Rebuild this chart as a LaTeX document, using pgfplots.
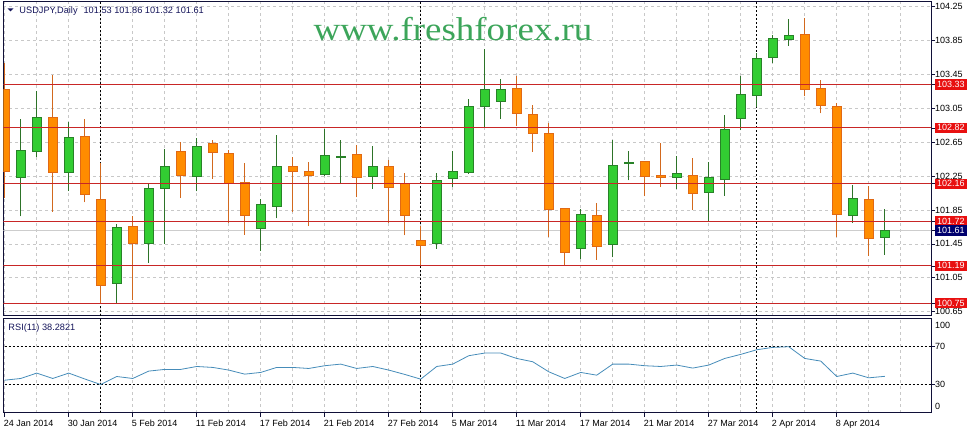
\documentclass[border=0pt]{standalone}
\usepackage{fontspec}
\setmainfont{Liberation Sans}
\newfontfamily\wmfont{Liberation Serif}
\usepackage{pgfplots}
\usepackage{pgfplotstable}
\pgfplotsset{compat=1.18}

\definecolor{frame}{RGB}{16,16,56}
\definecolor{gridgray}{RGB}{200,200,200}
\definecolor{bullfill}{RGB}{50,205,50}
\definecolor{bulledge}{RGB}{40,130,40}
\definecolor{bullwick}{RGB}{45,115,40}
\definecolor{bearfill}{RGB}{255,140,0}
\definecolor{bearedge}{RGB}{225,105,20}
\definecolor{bearwick}{RGB}{210,105,30}
\definecolor{levelred}{RGB}{200,38,38}
\definecolor{lblred}{RGB}{232,16,16}
\definecolor{navy}{RGB}{0,0,110}
\definecolor{titlecol}{RGB}{20,20,90}
\definecolor{rsiblue}{RGB}{70,140,185}
\definecolor{wmgreen}{RGB}{60,165,90}
\definecolor{bidgray}{RGB}{205,205,205}

\newcommand\rl[1]{{\setlength\fboxsep{2pt}\colorbox{lblred}{\color{white}#1}}}
\newcommand\bl[1]{{\setlength\fboxsep{2pt}\colorbox{navy}{\color{white}#1}}}

% daily bars, i = bar index (0 = 24 Jan 2014)
\pgfplotstableread{
i o h l c
1 102.23 102.93 101.775 102.55
2 102.54 103.25 102.48 102.94
4 102.29 102.885 102.08 102.71
7 100.98 101.68 100.75 101.64
9 101.45 102.16 101.23 102.10
10 102.10 102.57 101.45 102.36
12 102.25 102.70 102.07 102.60
16 101.63 101.98 101.37 101.91
17 101.89 102.74 101.75 102.36
20 102.27 102.81 102.25 102.49
21 102.475 102.68 102.16 102.485
23 102.24 102.61 102.10 102.36
27 101.45 102.29 101.39 102.20
28 102.22 102.55 102.12 102.30
29 102.29 103.16 102.28 103.07
30 103.07 103.75 102.82 103.27
31 103.13 103.40 102.93 103.27
36 101.39 101.86 101.275 101.80
38 101.44 102.68 101.29 102.38
39 102.395 102.55 102.20 102.405
42 102.23 102.49 102.10 102.275
44 102.06 102.42 101.72 102.23
45 102.21 102.97 102.02 102.806
46 102.93 103.43 102.79 103.215
47 103.20 103.70 103.07 103.64
48 103.65 103.916 103.58 103.876
49 103.865 104.10 103.79 103.912
53 101.787 102.145 101.70 101.984
55 101.53 101.86 101.32 101.61
}\bull

\pgfplotstableread{
i o h l c
0 103.27 103.59 101.99 102.30
3 102.94 103.44 101.83 102.29
5 102.72 102.93 101.94 102.03
6 101.97 102.40 100.75 100.96
8 101.65 101.775 100.79 101.45
11 102.535 102.65 101.99 102.26
13 102.63 102.68 102.22 102.53
14 102.52 102.56 101.70 102.16
15 102.17 102.40 101.56 101.79
18 102.36 102.47 101.83 102.30
19 102.31 102.42 101.66 102.26
22 102.50 102.62 102.00 102.23
24 102.36 102.44 101.70 102.12
25 102.16 102.29 101.55 101.79
26 101.495 101.66 101.185 101.43
32 103.28 103.43 102.84 102.99
33 102.98 103.09 102.54 102.755
34 102.75 102.88 101.53 101.86
35 101.87 101.87 101.20 101.35
37 101.79 101.93 101.26 101.42
40 102.42 102.42 102.01 102.25
41 102.26 102.64 102.12 102.23
43 102.26 102.46 101.85 102.05
50 103.916 104.12 103.19 103.274
51 103.286 103.385 102.99 103.085
52 103.074 103.109 101.535 101.80
54 101.976 102.13 101.31 101.515
}\bear

\pgfplotstableread{
i r
0 34.2
1 36.0
2 41.7
3 36.0
4 41.7
5 35.5
6 29.6
7 38.1
8 36.0
9 43.8
10 45.6
11 45.6
12 48.7
13 47.7
14 44.9
15 40.6
16 42.4
17 47.7
18 47.7
19 46.6
20 49.5
21 51.2
22 46.6
23 48.7
24 44.9
25 40.3
26 35.3
27 48.7
28 51.2
29 60.1
30 62.9
31 62.9
32 57.2
33 53.7
34 43.1
35 36.0
36 42.4
37 39.5
38 51.2
39 51.2
40 49.5
41 48.7
42 50.2
43 47.0
44 50.2
45 57.2
46 61.5
47 66.4
48 68.9
49 69.6
50 57.2
51 54.4
52 38.1
53 41.7
54 36.7
55 38.28
}\rsi

\pgfplotsset{
  chart/.style={scale only axis, width=927.7pt, xmin=-0.0875, xmax=57.89,
    axis line style={draw=frame, line width=0.8pt},
    tick style={draw=frame, line width=0.6pt},
    major tick length=4pt, minor tick length=0pt,
    tick label style={font=\fontsize{9}{10}\selectfont},
    minor xtick={2,6,...,54,56},
    xmajorgrids, xminorgrids,
    major grid style={gridgray, dash pattern=on 3pt off 3pt, line width=0.6pt},
    minor grid style={gridgray, dash pattern=on 3pt off 3pt, line width=0.6pt},
    extra x ticks={6,26,47}, extra x tick labels={},
    extra x tick style={grid=major, major grid style={black, dash pattern=on 2pt off 2pt, line width=0.7pt}, tick style={draw=none}},
    ytick pos=right, yticklabel pos=right, ytick align=outside,
    yticklabel style={anchor=west, inner sep=0pt},
  },
  price/.style={chart, height=314pt, ymin=100.602, ymax=104.309,
    at={(3.3pt,-1.7pt)}, anchor=north west},
  bodies/.style={price, hide axis, ybar stacked, bar width=9pt},
}

\begin{document}
\begin{tikzpicture}
\useasboundingbox (0pt,0pt) rectangle (973pt,-435pt);

% price panel: grid, scale, wicks
\begin{axis}[price,
  xtick={0,4,...,56}, xticklabels={}, xtick style={draw=none},
  ymajorgrids,
  ytick={100.65,101.05,101.45,101.85,102.25,102.65,103.05,103.45,103.85,104.25},
  yticklabels={100.65,101.05,101.45,101.85,102.25,102.65,103.05,103.45,103.85,104.25},
  extra y ticks={103.33,102.82,102.16,101.72,101.61,101.19,100.75},
  extra y tick labels={\rl{103.33},\rl{102.82},\rl{102.16},\rl{101.72},\bl{101.61},\rl{101.19},\rl{100.75}},
  extra y tick style={grid=none},
]
\addplot[bidgray, line width=0.8pt] coordinates {(-1,101.61) (60,101.61)};
\addplot[draw=none, error bars/.cd, y dir=plus, y explicit, error mark=none,
  error bar style={draw=bullwick, line width=1pt, solid}]
  table[x=i, y=l, y error plus expr=\thisrow{h}-\thisrow{l}] \bull;
\addplot[draw=none, error bars/.cd, y dir=plus, y explicit, error mark=none,
  error bar style={draw=bearwick, line width=1pt, solid}]
  table[x=i, y=l, y error plus expr=\thisrow{h}-\thisrow{l}] \bear;
\end{axis}

% bull bodies
\begin{axis}[bodies]
\addplot[draw=none, fill=none] table[x=i, y=o] \bull;
\addplot[draw=bulledge, fill=bullfill, line width=1pt] table[x=i, y expr=\thisrow{c}-\thisrow{o}] \bull;
\end{axis}

% bear bodies
\begin{axis}[bodies]
\addplot[draw=none, fill=none] table[x=i, y=c] \bear;
\addplot[draw=bearedge, fill=bearfill, line width=1pt] table[x=i, y expr=\thisrow{o}-\thisrow{c}] \bear;
\end{axis}

% horizontal levels on top
\begin{axis}[price, hide axis]
\addplot[levelred, line width=0.8pt] coordinates {(-1,103.33) (60,103.33)};
\addplot[levelred, line width=0.8pt] coordinates {(-1,102.82) (60,102.82)};
\addplot[levelred, line width=0.8pt] coordinates {(-1,102.16) (60,102.16)};
\addplot[levelred, line width=0.8pt] coordinates {(-1,101.72) (60,101.72)};
\addplot[levelred, line width=0.8pt] coordinates {(-1,101.19) (60,101.19)};
\addplot[levelred, line width=0.8pt] coordinates {(-1,100.75) (60,100.75)};
\end{axis}

% RSI panel
\begin{axis}[chart, height=94.5pt, ymin=0, ymax=100,
  at={(3.3pt,-318pt)}, anchor=north west,
  xtick={0,4,...,52},
  xticklabels={24 Jan 2014,30 Jan 2014,5 Feb 2014,11 Feb 2014,17 Feb 2014,21 Feb 2014,27 Feb 2014,5 Mar 2014,11 Mar 2014,17 Mar 2014,21 Mar 2014,27 Mar 2014,2 Apr 2014,8 Apr 2014},
  xtick pos=bottom, xtick align=outside,
  xticklabel style={anchor=north west, inner sep=0pt, xshift=-1pt, yshift=-3.5pt},
  ytick={30,70}, yticklabels={30,70},
  extra y ticks={6.1,92.6}, extra y tick labels={0,100},
  extra y tick style={tick style={draw=none}},
]
\addplot[black, dash pattern=on 2pt off 2pt, line width=0.7pt] coordinates {(-1,30) (60,30)};
\addplot[black, dash pattern=on 2pt off 2pt, line width=0.7pt] coordinates {(-1,70) (60,70)};
\addplot[rsiblue, line width=0.8pt] table[x=i, y=r] \rsi;
\end{axis}

% captions
\fill[titlecol] (7.5pt,-8.5pt) -- (13.5pt,-8.5pt) -- (10.5pt,-11.5pt) -- cycle;
\node[anchor=base west, inner sep=0pt, text=titlecol, font=\fontsize{9.2}{10}\selectfont]
  at (19.3pt,-13.3pt) {USDJPY,Daily\hspace{6pt}101.53 101.86 101.32 101.61};
\node[anchor=base west, inner sep=0pt, text=titlecol, font=\fontsize{9.2}{10}\selectfont]
  at (8.3pt,-330.7pt) {RSI(11) 38.2821};
\node[anchor=base, inner sep=0pt, text=wmgreen]
  at (453pt,-40.7pt) {\scalebox{1.12}[1]{\wmfont\fontsize{33}{33}\selectfont www.freshforex.ru}};
\end{tikzpicture}
\end{document}
